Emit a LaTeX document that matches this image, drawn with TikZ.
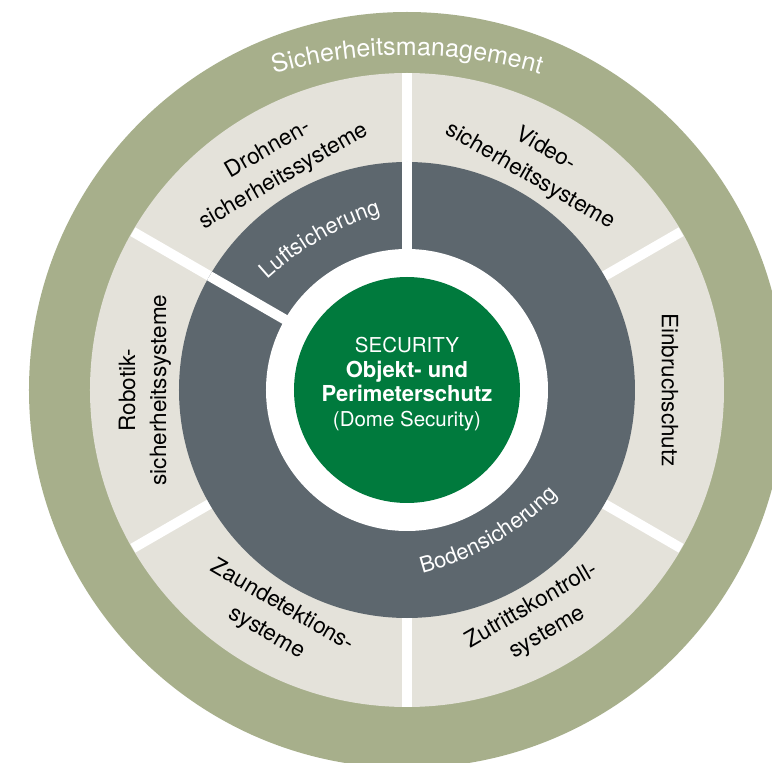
\documentclass[tikz,border=0pt]{standalone}
\usepackage{fontspec}
\setmainfont{TeX Gyre Heros}
\usepackage{tikz}
\usetikzlibrary{decorations.text}
\definecolor{olivering}{RGB}{167,175,139}
\definecolor{sandring}{RGB}{228,226,218}
\definecolor{slatering}{RGB}{93,103,110}
\definecolor{coregreen}{RGB}{0,122,61}
\newcommand{\corebold}{\bfseries\fontsize{22}{24.5}\selectfont}
\tikzstyle{splitline} = [white, line width=10]
\tikzstyle{fieldlbl} = [font=\fontsize{22.5}{31}\selectfont, align=center, inner sep=0pt, text=black]
\tikzstyle{corelbl} = [font=\fontsize{20.5}{24.5}\selectfont, align=center, inner sep=0pt, text=white]
\tikzset{arclbl/.style={decorate, decoration={text along path, text align=center, text color=white, text={#1}}}}

\begin{document}
\begin{tikzpicture}[x=1pt, y=1pt]
\useasboundingbox (-407,-373) rectangle (365,390);
\clip (-407,-373) rectangle (365,390);
\fill[white] (-407,-373) rectangle (365,390);

% rings from outside in
\fill[olivering] (0,0) circle (378);
\fill[sandring] (0,0) circle (317);
\foreach \a in {90,30,-30,-90,210,150}
  \draw[splitline] (0,0) -- (\a:316.5);
\fill[slatering] (0,0) circle (228);
\foreach \a in {90,150}
  \draw[splitline] (0,0) -- (\a:228);
\fill[white] (0,0) circle (141);
\fill[coregreen] (0,0) circle (113);

% ring texts
\path[arclbl={|\fontsize{25}{30}\selectfont|Sicherheitsmanagement}]
  (0,-141) ++(125:476) arc[start angle=125, end angle=55, radius=476];
\path[arclbl={|\fontsize{22}{26}\selectfont|Luftsicherung}]
  (120:-127) ++(150:300) arc[start angle=150, end angle=90, radius=300];
\path[arclbl={|\fontsize{22}{26}\selectfont|Bodensicherung}]
  (-60:-123) ++(-90:300) arc[start angle=-90, end angle=-30, radius=300];

% fields
\node[fieldlbl, rotate=30] (drone) at (120:262) {Drohnen-\\sicherheitssysteme};
\node[fieldlbl, rotate=-30] (video) at (60:262) {Video-\\sicherheitssysteme};
\node[fieldlbl, rotate=-90] (intrusion) at (0:263) {Einbruchschutz};
\node[fieldlbl, rotate=30] (access) at (300:265) {Zutrittskontroll-\\systeme};
\node[fieldlbl, rotate=-30] (fence) at (240:265) {Zaundetektions-\\systeme};
\node[fieldlbl, rotate=90] (robot) at (180:262) {Robotik-\\sicherheitssysteme};

% core
\node[corelbl] (core) at (0,6) {SECURITY\\{\corebold Objekt- und}\\{\corebold Perimeterschutz}\\(Dome Security)};
\end{tikzpicture}
\end{document}
